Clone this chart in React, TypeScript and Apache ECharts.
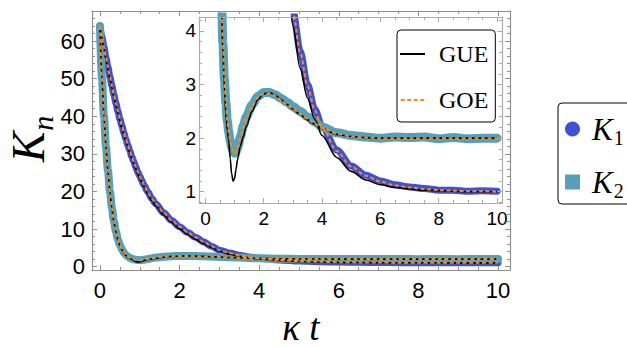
import React, { useEffect, useRef } from 'react';
import * as echarts from 'echarts';

// shared time grid (kappa t)
const T = [0, 0.05, 0.1, 0.15, 0.2, 0.25, 0.3, 0.35, 0.4, 0.45,
  0.5, 0.55, 0.6, 0.65, 0.7, 0.75, 0.8, 0.85, 0.9, 0.95,
  1.0, 1.05, 1.1, 1.2, 1.3, 1.4, 1.6, 1.8, 2.0, 2.2,
  2.4, 2.6, 2.8, 3.0, 3.25, 3.5, 3.75, 4.0, 4.5, 5.0,
  5.5, 6.0, 6.5, 7.0, 7.5, 8.0, 8.5, 9.0, 9.5, 10];

// K1 data (blue circles)
const K1 = [64, 61.1, 58.4, 55.6, 53.1, 50.5, 48.1, 45.7, 43.5, 41.3,
  39.3, 37.5, 35.6, 33.9, 32.3, 30.8, 29.2, 27.9, 26.5, 25.2,
  24.1, 22.9, 21.8, 19.9, 18.1, 16.7, 14.3, 12.3, 10.6, 9.1,
  7.8, 6.6, 5.4, 4.38, 3.62, 3.0, 2.54, 2.22, 1.78, 1.48,
  1.31, 1.2, 1.13, 1.09, 1.06, 1.03, 1.03, 1.01, 1.02, 1.01];

// K2 data (teal squares)
const K2 = [64, 50.2, 40.1, 31.9, 25.6, 20.1, 15.6, 12.1, 9.4, 7.3,
  5.7, 4.6, 3.76, 3.1, 2.66, 2.33, 2.11, 1.95, 1.83, 1.75,
  1.72, 1.74, 1.82, 2.02, 2.23, 2.4, 2.62, 2.78, 2.85, 2.85,
  2.81, 2.74, 2.67, 2.59, 2.5, 2.4, 2.3, 2.21, 2.1, 2.05,
  2.02, 2.0, 2.02, 2.01, 2.02, 1.99, 2.01, 1.99, 2.0, 2.0];

// GUE theory curves
const GUE1 = [64, 60.8, 58, 55.2, 52.6, 50, 47.5, 45.2, 42.9, 40.8,
  38.8, 36.9, 35.1, 33.4, 31.8, 30.2, 28.7, 27.3, 26, 24.7,
  23.5, 22.4, 21.3, 19.3, 17.6, 16.2, 13.8, 11.8, 10.1, 8.6,
  7.3, 6.1, 5.1, 4.1, 3.3, 2.75, 2.35, 2.05, 1.64, 1.38,
  1.22, 1.13, 1.08, 1.05, 1.03, 1.02, 1.01, 1.0, 1.0, 1.0];
const GUE2 = [64, 50, 40, 32, 25.4, 19.9, 15.4, 11.9, 9.3, 7.2,
  5.6, 4.5, 3.6, 2.95, 2.45, 2.15, 1.95, 1.62, 1.33, 1.2,
  1.25, 1.42, 1.6, 1.86, 2.03, 2.22, 2.5, 2.72, 2.83, 2.85,
  2.8, 2.72, 2.63, 2.54, 2.44, 2.34, 2.26, 2.18, 2.07, 2.03,
  2.01, 2.0, 2.0, 2.0, 2.0, 2.0, 2.0, 2.0, 2.0, 2.0];

// GOE theory curves
const GOE1 = [64, 61, 58.3, 55.6, 53, 50.5, 48, 45.7, 43.4, 41.3,
  39.3, 37.4, 35.6, 33.9, 32.3, 30.7, 29.2, 27.8, 26.5, 25.2,
  24, 22.9, 21.8, 19.8, 18.1, 16.7, 14.3, 12.3, 10.6, 9.1,
  7.8, 6.6, 5.4, 4.35, 3.6, 2.98, 2.52, 2.2, 1.76, 1.47,
  1.3, 1.19, 1.12, 1.08, 1.05, 1.03, 1.02, 1.01, 1.01, 1.0];
const GOE2 = [64, 50, 40, 32, 25.5, 20, 15.5, 12, 9.4, 7.3,
  5.7, 4.6, 3.75, 3.1, 2.65, 2.32, 2.1, 1.94, 1.82, 1.74,
  1.71, 1.73, 1.8, 2.0, 2.2, 2.37, 2.6, 2.76, 2.83, 2.84,
  2.79, 2.71, 2.63, 2.55, 2.45, 2.36, 2.27, 2.19, 2.08, 2.03,
  2.01, 2.0, 2.0, 2.0, 2.0, 2.0, 2.0, 2.0, 2.0, 2.0];

const C_K1 = '#3e51d5';
const C_K2 = '#57a0b9';
const C_GUE = '#000000';
const C_GOE = '#ff8a12';

const pairs = (ys: number[]) => T.map((t, i) => [t, ys[i]]);

export default function App() {
  const ref = useRef<HTMLDivElement>(null);
  useEffect(() => {
    document.body.style.margin = '0';
    const chart = echarts.init(ref.current!, null, { renderer: 'svg' });

    const frameColor = '#8f8f8f';
    const insetFrame = '#ababab';
    const mkX = (grid: number, min: number, max: number, pos: string, label: boolean, color: string, fs: number, margin: number, z: number) => ({
      type: 'value', gridIndex: grid, min, max, splitNumber: 5, position: pos, z,
      axisLine: { show: true, onZero: false, lineStyle: { color, width: 1.2 } },
      axisTick: { show: true, inside: true, length: 5, lineStyle: { color } },
      minorTick: { show: true, splitNumber: 4, length: 3, lineStyle: { color } },
      splitLine: { show: false },
      axisLabel: { show: label, showMinLabel: false, showMaxLabel: false, color: '#000', fontSize: fs, fontFamily: 'Liberation Sans', margin },
    });
    const mkY = (grid: number, min: number, max: number, split: number, minor: number, pos: string, label: boolean, color: string, fs: number, margin: number, z: number) => ({
      type: 'value', gridIndex: grid, min, max, splitNumber: split, position: pos, z,
      axisLine: { show: true, onZero: false, lineStyle: { color, width: 1.2 } },
      axisTick: { show: true, inside: true, length: 5, lineStyle: { color } },
      minorTick: { show: true, splitNumber: minor, length: 3, lineStyle: { color } },
      splitLine: { show: false },
      axisLabel: { show: label, showMinLabel: false, showMaxLabel: false, color: '#000', fontSize: fs, fontFamily: 'Liberation Sans', margin },
    });

    const band = (name: string, ys: number[], color: string, width: number, xi: number, z: number) => ({
      type: 'line', name, data: pairs(ys), xAxisIndex: xi, yAxisIndex: xi, symbol: 'circle', showSymbol: false,
      smooth: 0.3, smoothMonotone: 'x', z, silent: true,
      lineStyle: { color, width, cap: 'round', join: 'round' }, itemStyle: { color },
    });
    const theory = (name: string, ys: number[], color: string, width: number, type: any, xi: number, z: number) => ({
      type: 'line', name, data: pairs(ys), xAxisIndex: xi, yAxisIndex: xi, symbol: 'none', showSymbol: false,
      smooth: 0.3, smoothMonotone: 'x', z, silent: true,
      lineStyle: { color, width, type }, itemStyle: { color },
    });

    const rich = {
      k: { fontFamily: 'Liberation Serif', fontStyle: 'italic', fontSize: 31, lineHeight: 32, color: '#000' },
      s: { fontFamily: 'Liberation Serif', fontSize: 20, lineHeight: 20, verticalAlign: 'top', padding: [15, 0, 0, 1], color: '#000' },
    };

    const solidIcon = 'path://M0,0h25v2h-25z';
    const dashIcon = 'path://M0,0h4v2h-4z M6.5,0h4v2h-4z M13,0h4v2h-4z M19.5,0h4v2h-4z';

    const option: any = {
      animation: false,
      backgroundColor: '#fff',
      grid: [
        { left: 92, top: 11, width: 418, height: 259, z: 0 },
        { left: 199, top: 17, width: 303, height: 186, show: true, backgroundColor: '#fff', borderWidth: 0, z: 3 },
      ],
      xAxis: [
        mkX(0, -0.2, 10.3, 'bottom', true, frameColor, 22, 9, 1),
        mkX(0, -0.2, 10.3, 'top', false, frameColor, 22, 9, 1),
        mkX(1, -0.22, 10.17, 'bottom', true, insetFrame, 19, 6, 6),
        mkX(1, -0.22, 10.17, 'top', false, insetFrame, 19, 6, 6),
      ],
      yAxis: [
        mkY(0, -0.9, 68, 7, 5, 'left', true, frameColor, 22, 7, 1),
        mkY(0, -0.9, 68, 7, 5, 'right', false, frameColor, 22, 7, 1),
        mkY(1, 0.79, 4.26, 4, 5, 'left', true, insetFrame, 19, 3, 6),
        mkY(1, 0.79, 4.26, 4, 5, 'right', false, insetFrame, 19, 3, 6),
      ],
      legend: [
        {
          orient: 'vertical', left: 397, top: 30, z: 10,
          data: [
            { name: 'GUE', icon: solidIcon, itemStyle: { color: C_GUE } },
            { name: 'GOE', icon: dashIcon, itemStyle: { color: C_GOE } },
          ],
          itemWidth: 25, itemHeight: 2, itemGap: 22,
          padding: [12, 7, 10, 3], borderColor: '#000', borderWidth: 1, borderRadius: 4, backgroundColor: '#fff',
          textStyle: { fontFamily: 'Liberation Serif', fontSize: 24, color: '#000', padding: [0, 0, 0, 9] },
          selectedMode: false,
        },
        {
          orient: 'vertical', left: 558, top: 103, z: 10,
          data: [{ name: 'K1', icon: 'circle' }, { name: 'K2', icon: 'rect' }],
          itemWidth: 15, itemHeight: 15, itemGap: 18,
          padding: [10, 40, 3, 7], borderColor: '#000', borderWidth: 1, borderRadius: 4, backgroundColor: '#fff',
          formatter: (n: string) => (n === 'K1' ? '{k|K}{s|1}' : '{k|K}{s|2}'),
          textStyle: { padding: [0, 0, 0, 7], rich },
          selectedMode: false,
        },
      ],
      graphic: [
        {
          type: 'text', x: 301, y: 327, z: 20,
          style: { text: 'κ t', font: 'italic 37px "Liberation Serif"', fill: '#000', align: 'center', verticalAlign: 'middle' },
        },
        {
          type: 'text', x: 28, y: 139, rotation: Math.PI / 2, z: 20,
          style: {
            text: '{k|K}{n|n}', align: 'center', verticalAlign: 'middle',
            rich: {
              k: { fontFamily: 'Liberation Serif', fontStyle: 'italic', fontSize: 46, lineHeight: 46, fill: '#000' },
              n: { fontFamily: 'Liberation Serif', fontStyle: 'italic', fontSize: 30, lineHeight: 30, verticalAlign: 'top', padding: [22, 0, 0, 1], fill: '#000' },
            },
          },
        },
      ],
      series: [
        band('K1', K1, C_K1, 7, 0, 2),
        band('K2', K2, C_K2, 8, 0, 2),
        theory('GUE', GUE1, C_GUE, 1.6, 'solid', 0, 2),
        theory('GUE', GUE2, C_GUE, 1.6, 'solid', 0, 2),
        theory('GOE', GOE1, C_GOE, 2, [4, 2.5], 0, 2),
        theory('GOE', GOE2, C_GOE, 2, [4, 2.5], 0, 2),
        band('K1', K1, C_K1, 7, 2, 5),
        band('K2', K2, C_K2, 9, 2, 5),
        theory('GUE', GUE1, C_GUE, 1.6, 'solid', 2, 5),
        theory('GUE', GUE2, C_GUE, 1.6, 'solid', 2, 5),
        theory('GOE', GOE1, C_GOE, 2, [4, 2.5], 2, 5),
        theory('GOE', GOE2, C_GOE, 2, [4, 2.5], 2, 5),
      ],
    };
    chart.setOption(option);
    return () => chart.dispose();
  }, []);
  return <div ref={ref} style={{ width: 627, height: 347 }} />;
}
